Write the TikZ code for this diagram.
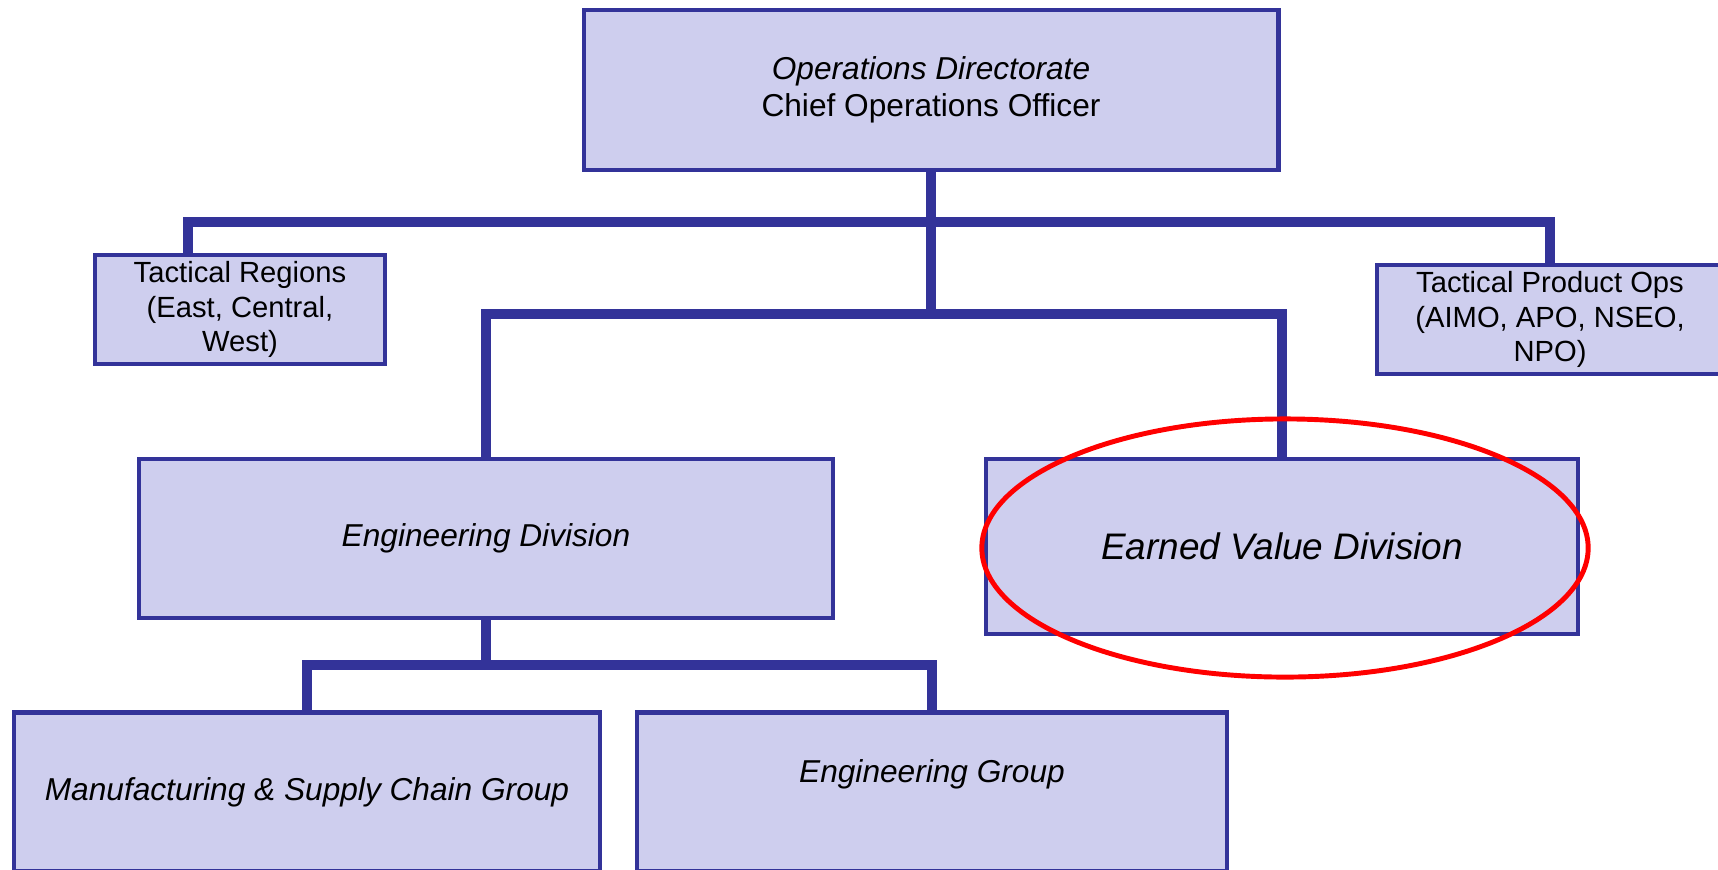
\documentclass[tikz,border=0pt]{standalone}
\usepackage{fontspec}
\setmainfont{Liberation Sans}
\definecolor{Box}{HTML}{CECEEE}
\definecolor{Rim}{HTML}{333399}
\definecolor{Ring}{HTML}{FF0000}

\begin{document}
\begin{tikzpicture}[x=0.01cm, y=-0.01cm,
    unit/.style={shape=rectangle, draw=Rim, fill=Box, line width=1.3pt, align=center, inner sep=0pt,
                 font=\fontsize{9}{10.6}\selectfont},
    small/.style={unit, font=\fontsize{8.3}{9.7}\selectfont},
    link/.style={draw=Rim, line width=2.6pt}]
    \useasboundingbox (0,0) rectangle (1718,869);
    \clip (0,0) rectangle (1718,869);

    \node at (931, 90) (coo) [unit, minimum width=6.94cm, minimum height=1.60cm]
        {\textit{Operations Directorate}\\Chief Operations Officer};
    \node at (240, 309.5) (regions) [small, minimum width=2.90cm, minimum height=1.09cm]
        {Tactical Regions\\(East, Central,\\West)};
    \node at (1550, 319.5) (prodops) [small, minimum width=3.46cm, minimum height=1.09cm]
        {Tactical Product Ops\\(AIMO, APO, NSEO,\\NPO)};
    \node at (486, 538.5) (engdiv) [unit, minimum width=6.94cm, minimum height=1.59cm]
        {\textit{Engineering Division}};
    \node at (1282, 546.5) (evdiv) [unit, minimum width=5.92cm, minimum height=1.75cm,
        font=\fontsize{10.5}{12}\selectfont] {\textit{Earned Value Division}};
    \node at (307, 792) (mfg) [unit, minimum width=5.86cm, minimum height=1.59cm]
        {\textit{Manufacturing \& Supply Chain Group}};
    \node at (932, 792) (enggrp) [unit, minimum width=5.90cm, minimum height=1.59cm] {};
    \node at (932, 774) (enggrptext) [font=\fontsize{9}{10.6}\selectfont] {\textit{Engineering Group}};

    \coordinate (bus1) at (931, 222);
    \coordinate (bus2) at (931, 314);
    \coordinate (bus3) at (486, 665);

    \draw[link] (coo.south) -- (bus2);
    \draw[link] (bus1) -| ([xshift=-0.52cm]regions.north);
    \draw[link] (bus1) -| (prodops.north);
    \draw[link] (bus2) -| (engdiv.north);
    \draw[link] (bus2) -| (evdiv.north);
    \draw[link] (engdiv.south) -- (bus3);
    \draw[link] (bus3) -| (mfg.north);
    \draw[link] (bus3) -| (enggrp.north);

    % the ring round the earned value box
    \draw[Ring, line width=1.4pt] (1285, 548) ellipse [x radius=3.03cm, y radius=1.29cm];
\end{tikzpicture}
\end{document}
